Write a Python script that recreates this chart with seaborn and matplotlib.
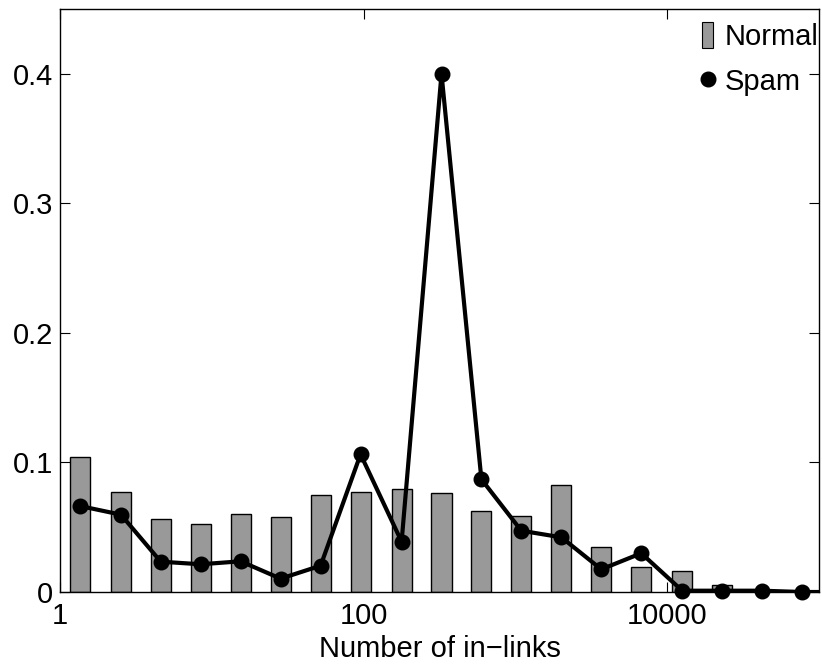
import numpy as np
import seaborn as sns
import matplotlib.pyplot as plt
from matplotlib.patches import Patch
from matplotlib.lines import Line2D

# bin centres (number of in-links, log spaced) and fraction per bin
x_centers = [1.35, 2.52, 4.61, 8.47, 15.5, 28.4, 52.1, 95.5, 178, 326,
             597, 1094, 2009, 3681, 6745, 12560, 23010, 42170, 77270, 141600]
normal = [0.1045, 0.077, 0.0566, 0.0523, 0.0602, 0.0577, 0.0749, 0.0772, 0.0798, 0.0762,
          0.0628, 0.0590, 0.0824, 0.0347, 0.0191, 0.0165, 0.0052, 0.0, 0.0, 0.0]
spam = [0.0664, 0.0597, 0.0234, 0.0214, 0.0237, 0.0103, 0.0203, 0.1063, 0.0388, 0.400,
        0.087, 0.0473, 0.0422, 0.0175, 0.0299, 0.001, 0.001, 0.001, 0.0, 0.0]
yticks = [0, 0.1, 0.2, 0.3, 0.4]
xticks = [1, 100, 10000]
xticklabels = ["1", "100", "10000"]

sns.set_style("ticks")
plt.rcParams['font.family'] = ['Liberation Sans', 'DejaVu Sans']
plt.rcParams['text.color'] = 'black'
plt.rcParams['axes.labelcolor'] = 'black'
FS = 21
plt.rcParams['font.size'] = FS

fig = plt.figure(figsize=(8.22, 6.69), dpi=100)
ax = fig.add_axes([60/822, 1 - 592/669, 759/822, 583/669])

# bars: constant width in log space
xc = np.array(x_centers)
half = 0.066
left = xc * 10**(-half)
width = xc * 10**half - left
ax.bar(left, normal, width=width, align='edge', color='#999999',
       edgecolor='black', linewidth=1.0, zorder=2)

# spam line + markers
sns.lineplot(x=x_centers, y=spam, color='black', linewidth=3, ax=ax,
             sort=False, estimator=None, zorder=3)
n_vis = 19
sns.scatterplot(x=x_centers[:n_vis], y=spam[:n_vis], color='black', s=110,
                edgecolor='black', linewidth=1, ax=ax, zorder=4, clip_on=False)

ax.set_xscale('log')
ax.set_xlim(1, 1e5)
ax.set_ylim(0, 0.45)
ax.set_xticks(xticks)
ax.set_xticklabels(xticklabels)
ax.minorticks_off()
ax.set_yticks(yticks)
ax.set_yticklabels(["0", "0.1", "0.2", "0.3", "0.4"])
ax.tick_params(direction='in', length=7, width=0.8, top=True, right=True,
               labelsize=FS, colors='black')
ax.tick_params(axis='x', pad=7)
ax.tick_params(axis='y', pad=5)
for s in ax.spines.values():
    s.set_visible(True)
    s.set_linewidth(1.0)
    s.set_color('black')

ax.set_xlabel("Number of in\u2212links", fontsize=FS, labelpad=4, color='black')

handles = [Patch(facecolor='#999999', edgecolor='black', linewidth=0.8),
           Line2D([], [], marker='o', color='black', linestyle='none', markersize=10.5)]
leg = ax.legend(handles, ["Normal", "Spam"], loc='upper left',
                bbox_to_anchor=(702/822, 1 - 22/669), bbox_transform=fig.transFigure,
                frameon=False, borderpad=0, borderaxespad=0, handlelength=0.38,
                handleheight=1.0, handletextpad=0.4, labelspacing=0.55, fontsize=FS)
for t in leg.get_texts():
    t.set_color('black')

fig.savefig("out.png", dpi=100)
